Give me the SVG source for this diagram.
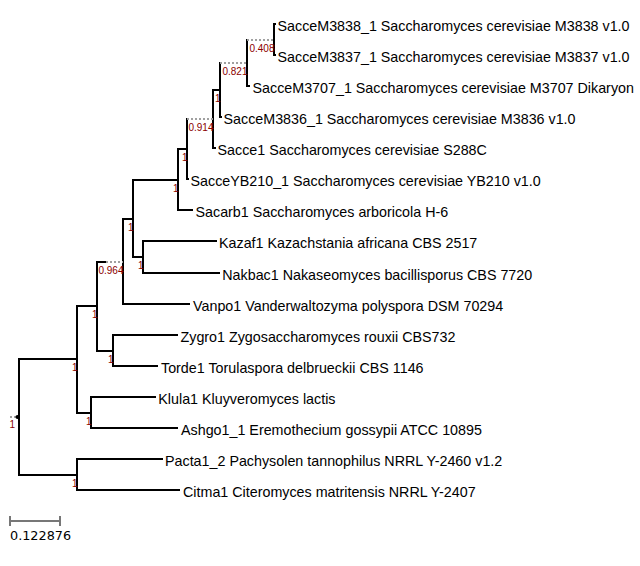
<svg xmlns="http://www.w3.org/2000/svg" width="640" height="566" viewBox="0 0 640 566">
<style>
.br{stroke:#000;stroke-width:2;fill:none;stroke-linecap:square}
.dt{stroke:#a0a0a0;stroke-width:2;fill:none;stroke-dasharray:2 2}
.sc{stroke:#777;stroke-width:2;fill:none}
.lf{font-family:"Liberation Sans",Arial,sans-serif;font-size:14.3px;fill:#000}
.sp{font-family:"Liberation Sans",Arial,sans-serif;font-size:10px;fill:#8b0000;text-anchor:end}
.st{font-family:"DejaVu Sans",sans-serif;font-size:12.8px;fill:#000}
</style>
<rect width="640" height="566" fill="#fff"/>
<g id="connectors">
<path class="br" d="M19 359V475M77 306V413M77 459V490M97 262V351M91 397V428M113 335V366M123 219V304M133 180V257M143 241V273M178 149V210M187 119V179M213 90V148M220 63V117M247 40V86M274 24V55"/>
<path class="br" d="M19 359H77M19 475H77M77 306H97M77 413H91M97 351H113M97 262H105M123 219H133M133 257H143M133 180H178M178 149H187M213 90H220"/>
<path class="dt" d="M10 417H16M106 262H123M187 119H213M220 63H247M247 40H274"/>
<path class="br" d="M274 24H275M274 55H275M247 86H249M220 117H221M213 148H215M187 179H188M178 210H192M143 241H216M143 273H219M123 304H189M113 335H177M113 366H157M91 397H155M91 428H177M77 459H162M77 490H179"/>
</g>
<g id="root"><circle cx="17.5" cy="417" r="2" fill="#000"/><text class="sp" x="15" y="428">1</text></g>
<g id="n1"><text class="sp" x="77.5" y="370.5">1</text></g>
<g id="n_pacta_citma"><text class="sp" x="77.5" y="486.5">1</text></g>
<g id="n2"><text class="sp" x="97.5" y="317.5">1</text></g>
<g id="n_klula_ashgo"><text class="sp" x="91.5" y="424.5">1</text></g>
<g id="n_zygro_torde"><text class="sp" x="113.5" y="362.5">1</text></g>
<g id="n3"><text class="sp" x="123.5" y="273.5">0.964</text></g>
<g id="n4"><text class="sp" x="133.5" y="230.5">1</text></g>
<g id="n_kazaf_nakbac"><text class="sp" x="143.5" y="268.5">1</text></g>
<g id="s1"><text class="sp" x="178.5" y="191.5">1</text></g>
<g id="s2"><text class="sp" x="187.5" y="160.5">1</text></g>
<g id="s4"><text class="sp" x="213.5" y="130.5">0.914</text></g>
<g id="s5"><text class="sp" x="220.5" y="101.5">1</text></g>
<g id="s6"><text class="sp" x="247.5" y="74.5">0.821</text></g>
<g id="a"><text class="sp" x="274.5" y="51.5">0.408</text></g>
<g id="leaf_SacceM3838"><text class="lf" x="277.5" y="30.5">SacceM3838_1 Saccharomyces cerevisiae M3838 v1.0</text></g>
<g id="leaf_SacceM3837"><text class="lf" x="277.5" y="61.5">SacceM3837_1 Saccharomyces cerevisiae M3837 v1.0</text></g>
<g id="leaf_SacceM3707"><text class="lf" x="252.5" y="92.5">SacceM3707_1 Saccharomyces cerevisiae M3707 Dikaryon</text></g>
<g id="leaf_SacceM3836"><text class="lf" x="223.5" y="123.5">SacceM3836_1 Saccharomyces cerevisiae M3836 v1.0</text></g>
<g id="leaf_Sacce1"><text class="lf" x="217.5" y="154.5">Sacce1 Saccharomyces cerevisiae S288C</text></g>
<g id="leaf_SacceYB210"><text class="lf" x="190.5" y="185.5">SacceYB210_1 Saccharomyces cerevisiae YB210 v1.0</text></g>
<g id="leaf_Sacarb1"><text class="lf" x="195.5" y="216.5">Sacarb1 Saccharomyces arboricola H-6</text></g>
<g id="leaf_Kazaf1"><text class="lf" x="219" y="247.5">Kazaf1 Kazachstania africana CBS 2517</text></g>
<g id="leaf_Nakbac1"><text class="lf" x="222.3" y="279.5">Nakbac1 Nakaseomyces bacillisporus CBS 7720</text></g>
<g id="leaf_Vanpo1"><text class="lf" x="193" y="310.5">Vanpo1 Vanderwaltozyma polyspora DSM 70294</text></g>
<g id="leaf_Zygro1"><text class="lf" x="180.5" y="341.5">Zygro1 Zygosaccharomyces rouxii CBS732</text></g>
<g id="leaf_Torde1"><text class="lf" x="161" y="372.5">Torde1 Torulaspora delbrueckii CBS 1146</text></g>
<g id="leaf_Klula1"><text class="lf" x="158.3" y="403.5">Klula1 Kluyveromyces lactis</text></g>
<g id="leaf_Ashgo1"><text class="lf" x="181" y="434.5">Ashgo1_1 Eremothecium gossypii ATCC 10895</text></g>
<g id="leaf_Pacta1"><text class="lf" x="165" y="465.5">Pacta1_2 Pachysolen tannophilus NRRL Y-2460 v1.2</text></g>
<g id="leaf_Citma1"><text class="lf" x="183" y="496.5">Citma1 Citeromyces matritensis NRRL Y-2407</text></g>
<g id="scale"><path class="sc" d="M10 521H60M10 516V526M60 516V526"/><text class="st" x="10" y="539.5">0.122876</text></g>
</svg>
